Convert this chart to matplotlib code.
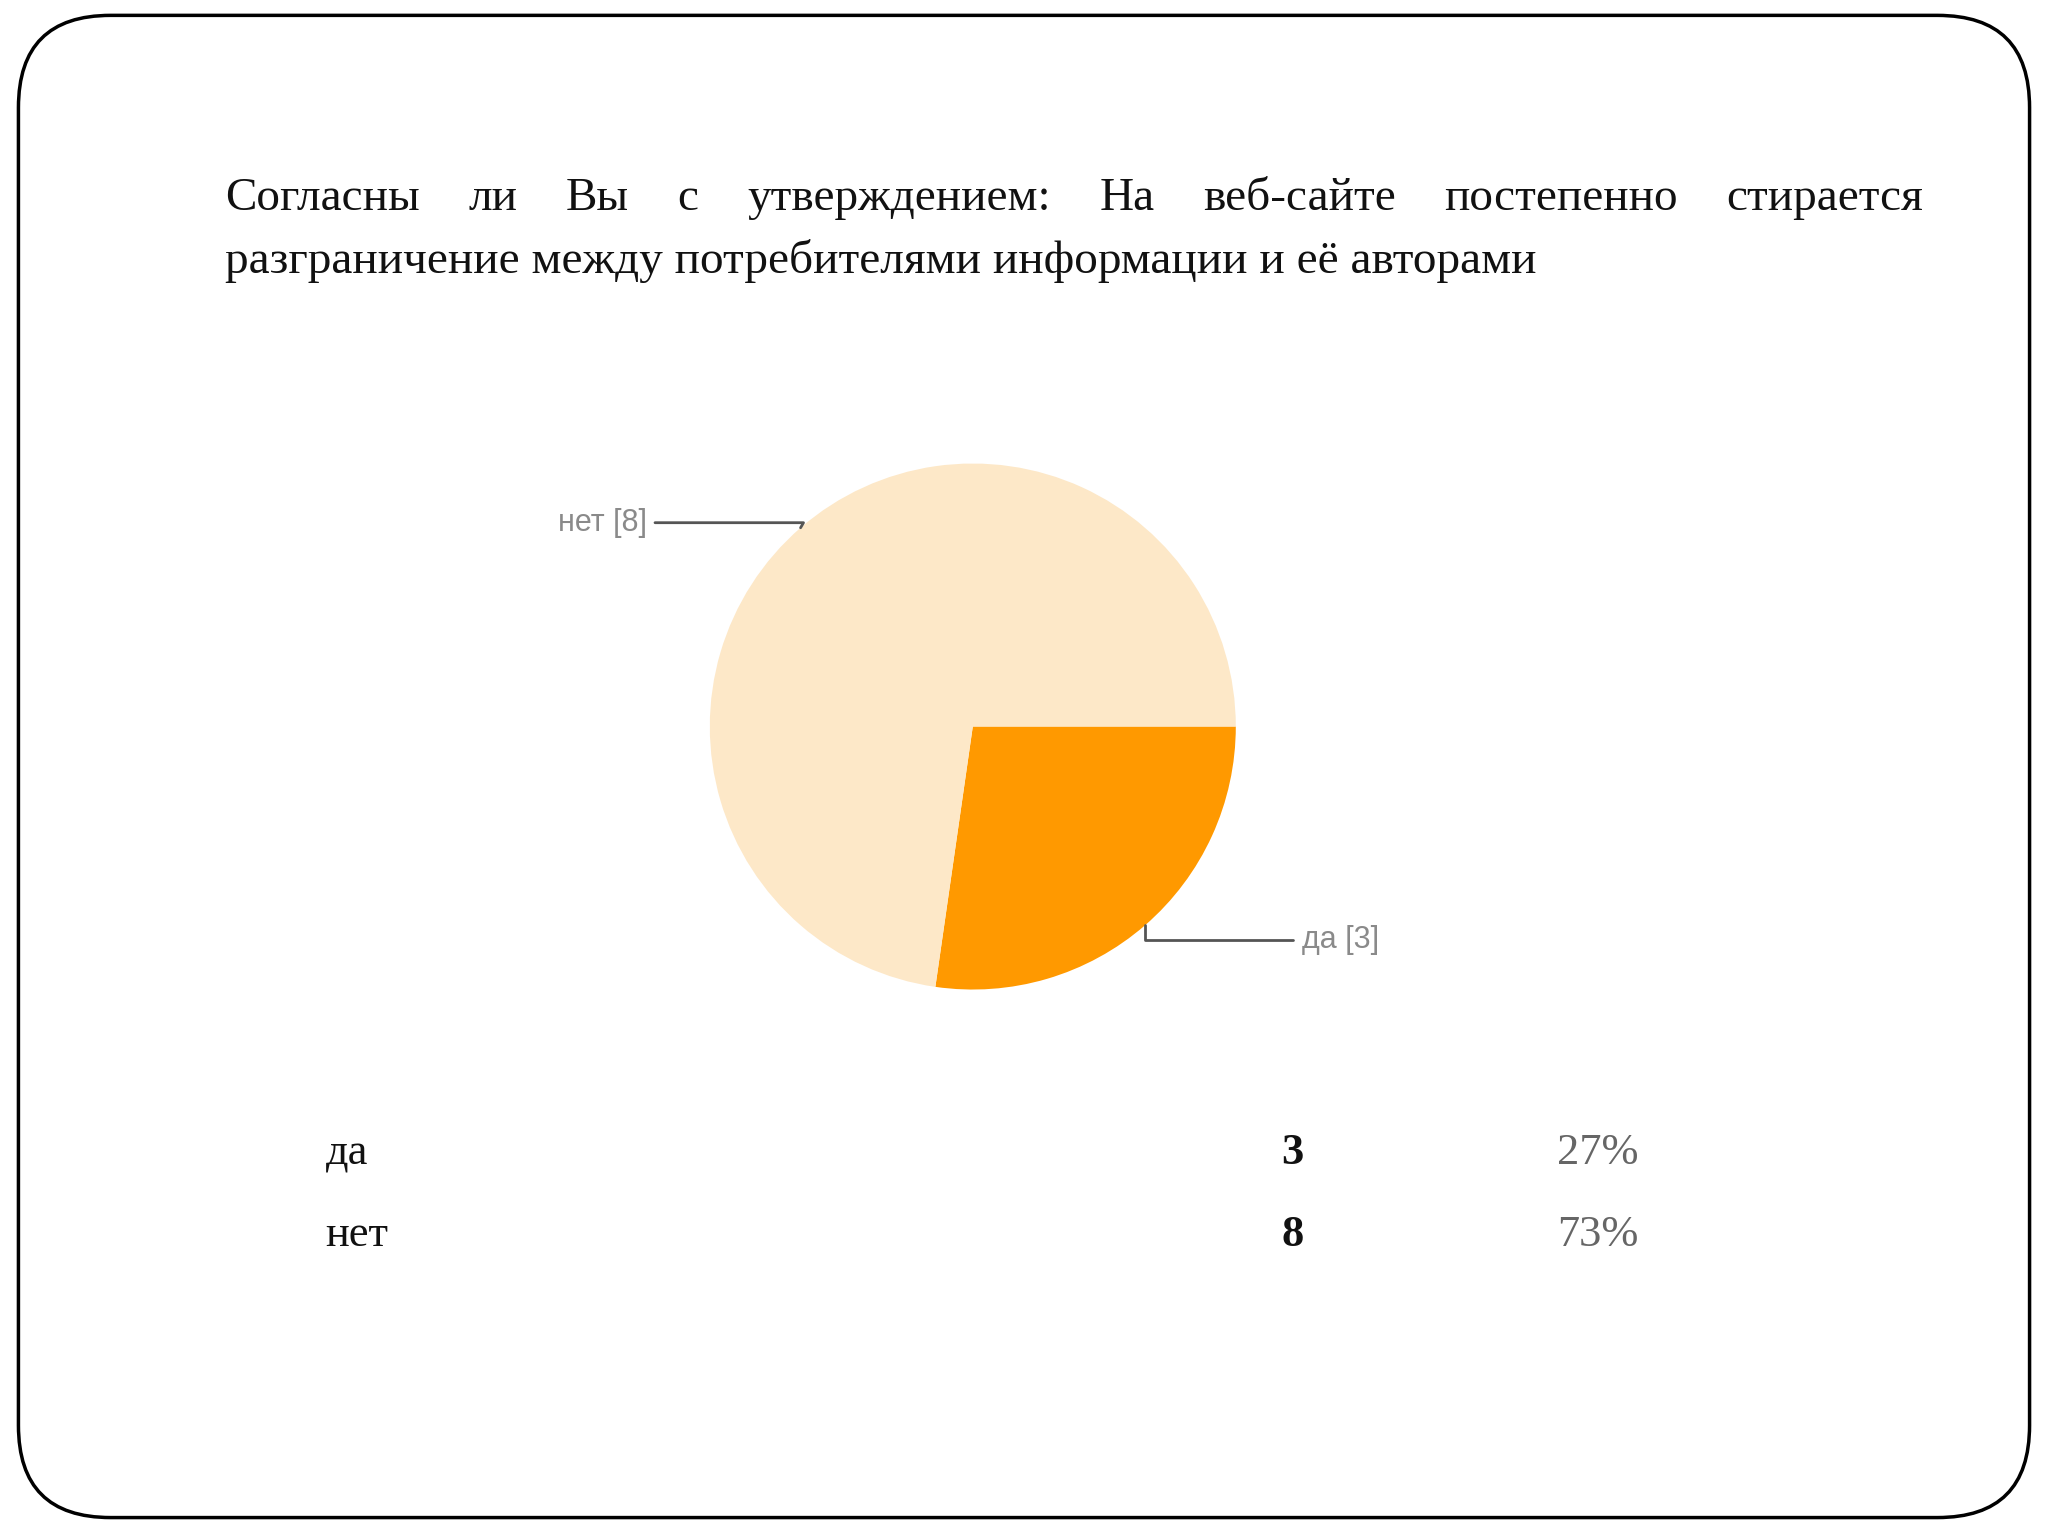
import matplotlib.pyplot as plt
import numpy as np
from matplotlib.patches import FancyBboxPatch

plt.rcParams['font.family'] = ['Liberation Serif', 'DejaVu Serif']

title_lines = ['Согласны ли Вы с утверждением: На веб-сайте постепенно стирается',
               'разграничение между потребителями информации и её авторами']
labels = ['да', 'нет']
counts = [3, 8]
colors = ['#FF9900', '#FDE8C8']

fig = plt.figure(figsize=(20.48, 15.36), dpi=100)

# rounded slide frame
frame = FancyBboxPatch((0.009, 0.012), 0.982, 0.978, boxstyle='round,pad=0,rounding_size=0.045',
                       transform=fig.transFigure, fill=False, lw=2.5, ec='black',
                       mutation_aspect=2048 / 1536)
fig.patches.append(frame)

# title, first line justified
words = title_lines[0].split(' ')
x0, x1, ty = 0.110, 0.939, 0.863
renderer = fig.canvas.get_renderer()
widths = []
for w in words:
    t = fig.text(0, 0, w, fontsize=34)
    widths.append(t.get_window_extent(renderer).width / 2048)
    t.remove()
gap = (x1 - x0 - sum(widths)) / (len(words) - 1)
x = x0
for w, wd in zip(words, widths):
    fig.text(x, ty, w, fontsize=34, va='baseline', color='#111111')
    x += wd + gap
fig.text(x0, 0.822, title_lines[1], fontsize=34, va='baseline', color='#111111')

# pie
cx, cy, r = 0.475, 0.527, 263
ax = fig.add_axes([cx - r / 2048, cy - r / 1536, 2 * r / 2048, 2 * r / 1536])
wedges, _ = ax.pie(counts, colors=colors, startangle=0, counterclock=False, radius=1)
ax.set_xlim(-1, 1)
ax.set_ylim(-1, 1)
ax.axis('off')

text_pos = {'да': (1.25, -0.81), 'нет': (-1.24, 0.775)}
for wdg, lab, c in zip(wedges, labels, counts):
    ang = np.deg2rad((wdg.theta1 + wdg.theta2) / 2)
    ex, ey = np.cos(ang), np.sin(ang)
    tx, ty2 = text_pos[lab]
    conn = 'angle,angleA=0,angleB=60,rad=0' if tx < 0 else 'angle,angleA=0,angleB=90,rad=0'
    ax.annotate(f'{lab} [{c}]', xy=(ex, ey), xytext=(tx, ty2),
                ha='left' if tx > 0 else 'right', va='center',
                fontsize=22, color='#8a8a8a', family=['Liberation Sans', 'DejaVu Sans'],
                arrowprops=dict(arrowstyle='-', color='#555555', lw=2,
                                connectionstyle=conn, shrinkA=4, shrinkB=0))

# table below
total = sum(counts)
for i, (lab, c) in enumerate(zip(labels, counts)):
    y = 0.242 - i * 0.053
    fig.text(0.159, y, lab, fontsize=32, va='baseline', color='#111111')
    fig.text(0.631, y, str(c), fontsize=32, va='baseline', ha='center', weight='bold', color='#111111')
    fig.text(0.780, y, f'{round(100 * c / total)}%', fontsize=32, va='baseline', ha='center', color='#666666')

fig.savefig('out.png', dpi=100)
